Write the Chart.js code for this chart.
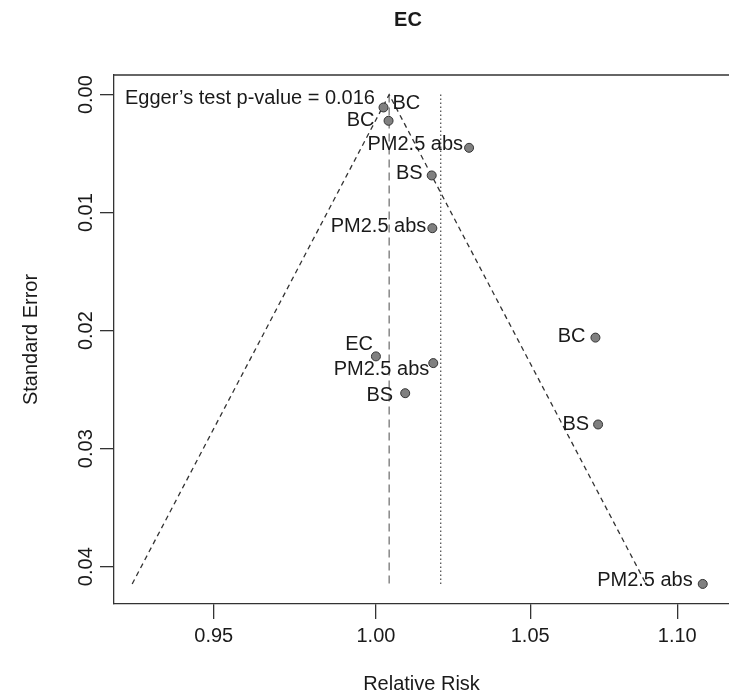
<!DOCTYPE html>
<html>
<head>
<meta charset="utf-8">
<title>EC funnel plot</title>
<script src="https://cdn.jsdelivr.net/npm/chart.js@4.4.1/dist/chart.umd.min.js"></script>
<style>
  html, body { margin: 0; padding: 0; background: #fff; }
  canvas { display: block; }
</style>
</head>
<body>
<canvas id="funnelChart" width="729" height="695"></canvas>
<script>
// Study estimates (relative risk) and standard errors
const studyLabels = ['BC', 'BC', 'PM2.5 abs', 'BS', 'PM2.5 abs', 'EC', 'PM2.5 abs', 'BS', 'BC', 'BS', 'PM2.5 abs'];
const relativeRisk = [1.0024, 1.0040, 1.0299, 1.0178, 1.0180, 1.0000, 1.0183, 1.0093, 1.0719, 1.0728, 1.1089];
const standardError = [0.00109, 0.00222, 0.00451, 0.00685, 0.01132, 0.02218, 0.02275, 0.02530, 0.02059, 0.02795, 0.04146];

// where each label sits next to its point (pixel nudges)
const labelSide = ['right', 'left', 'left', 'left', 'left', 'left', 'left', 'left', 'left', 'left', 'left'];
const labelDx = [9, -14, -6, -9, -6, -3, -4, -12, -10, -9, -10];
const labelDy = [-4, 0, -3, -2, -2, -12, 6, 2, -1, 0, -3];

// pooled estimate (dashed) and reference line (dotted)
const pooledRR = 1.0042;
const referenceRR = 1.0207;
const maxSE = 0.04146;

// funnel outline: bottom left, apex, bottom right
const funnelRR = [0.9258, 1.0042, 1.0892];
const funnelSE = [0.04146, 0, 0.04146];

const xTicks = [0.95, 1.00, 1.05, 1.10];
const yTicks = [0, 0.01, 0.02, 0.03, 0.04];

const chartTitle = 'EC';
const eggerText = 'Egger\u2019s test p-value = 0.016';

const fontFamily = '"Liberation Sans", Arial, Helvetica, sans-serif';
const inkColor = '#1a1a1a';
const axisColor = '#333';

// labels, egger text, title and top side of the box
const annotations = {
  id: 'annotations',
  afterDatasetsDraw(chart) {
    const ctx = chart.ctx;
    const area = chart.chartArea;
    const meta = chart.getDatasetMeta(0);
    ctx.save();

    ctx.strokeStyle = axisColor;
    ctx.lineWidth = 1.3;
    ctx.beginPath();
    ctx.moveTo(area.left, area.top);
    ctx.lineTo(area.right, area.top);
    ctx.stroke();

    ctx.fillStyle = inkColor;
    ctx.font = '20px ' + fontFamily;
    ctx.textBaseline = 'middle';
    meta.data.forEach((pt, i) => {
      ctx.textAlign = labelSide[i] === 'right' ? 'left' : 'right';
      ctx.fillText(studyLabels[i], pt.x + labelDx[i], pt.y + labelDy[i]);
    });

    ctx.textAlign = 'left';
    ctx.textBaseline = 'alphabetic';
    ctx.fillText(eggerText, area.left + 11, area.top + 29);

    ctx.font = 'bold 20px ' + fontFamily;
    ctx.textAlign = 'center';
    ctx.textBaseline = 'middle';
    ctx.fillText(chartTitle, area.left + 294, 20);
    ctx.restore();
  }
};

const points = relativeRisk.map((rr, i) => ({ x: rr, y: standardError[i] }));
const funnel = funnelRR.map((rr, i) => ({ x: rr, y: funnelSE[i] }));

const ctx = document.getElementById('funnelChart').getContext('2d');
new Chart(ctx, {
  type: 'scatter',
  data: {
    datasets: [
      {
        label: 'studies',
        data: points,
        pointRadius: 4.5,
        pointBackgroundColor: '#808080',
        pointBorderColor: '#333',
        pointBorderWidth: 1
      },
      {
        label: 'funnel',
        data: funnel,
        showLine: true,
        pointRadius: 0,
        borderColor: '#333',
        borderWidth: 1.3,
        borderDash: [5, 4],
        fill: false
      },
      {
        label: 'pooled',
        data: [{ x: pooledRR, y: 0 }, { x: pooledRR, y: maxSE }],
        showLine: true,
        pointRadius: 0,
        borderColor: '#888',
        borderWidth: 1.5,
        borderDash: [8, 5],
        fill: false
      },
      {
        label: 'reference',
        data: [{ x: referenceRR, y: 0 }, { x: referenceRR, y: maxSE }],
        showLine: true,
        pointRadius: 0,
        borderColor: '#555',
        borderWidth: 1.3,
        borderDash: [1.5, 2.5],
        fill: false
      }
    ]
  },
  options: {
    responsive: false,
    animation: false,
    devicePixelRatio: 1,
    events: [],
    layout: { autoPadding: false, padding: { top: 75, left: 0, right: 0, bottom: 0 } },
    plugins: {
      legend: { display: false },
      tooltip: { enabled: false },
      title: { display: false }
    },
    scales: {
      x: {
        type: 'logarithmic',
        bounds: 'data',
        min: 0.92049,
        max: 1.11815,
        afterBuildTicks: s => { s.ticks = xTicks.map(v => ({ value: v })); },
        afterFit: s => {
          s.height = 91;
          s.paddingLeft = 0;
          s.paddingRight = 0;
        },
        ticks: {
          callback: v => Number(v).toFixed(2),
          color: inkColor,
          font: { size: 20, family: fontFamily },
          padding: 5.5,
          autoSkip: false,
          maxRotation: 0
        },
        grid: { drawOnChartArea: false, tickLength: 15, color: axisColor, lineWidth: 1.3 },
        border: { color: axisColor, width: 1.3 },
        title: {
          display: true,
          text: 'Relative Risk',
          color: inkColor,
          font: { size: 20, family: fontFamily },
          padding: { top: 0, bottom: -1 }
        }
      },
      y: {
        type: 'linear',
        reverse: true,
        bounds: 'data',
        min: -0.00166,
        max: 0.04316,
        afterBuildTicks: s => { s.ticks = yTicks.map(v => ({ value: v })); },
        afterFit: s => {
          s.width = 114;
          s.paddingTop = 0;
          s.paddingBottom = 0;
        },
        ticks: {
          callback: v => Number(v).toFixed(2),
          color: inkColor,
          font: { size: 20, family: fontFamily },
          minRotation: 90,
          maxRotation: 90,
          crossAlign: 'center',
          padding: -5.5
        },
        grid: { drawOnChartArea: false, tickLength: 14, color: axisColor, lineWidth: 1.3 },
        border: { color: axisColor, width: 1.3 },
        title: {
          display: true,
          text: 'Standard Error',
          color: inkColor,
          font: { size: 20, family: fontFamily },
          padding: { top: 19, bottom: 0 }
        }
      }
    }
  },
  plugins: [annotations]
});
</script>
</body>
</html>
